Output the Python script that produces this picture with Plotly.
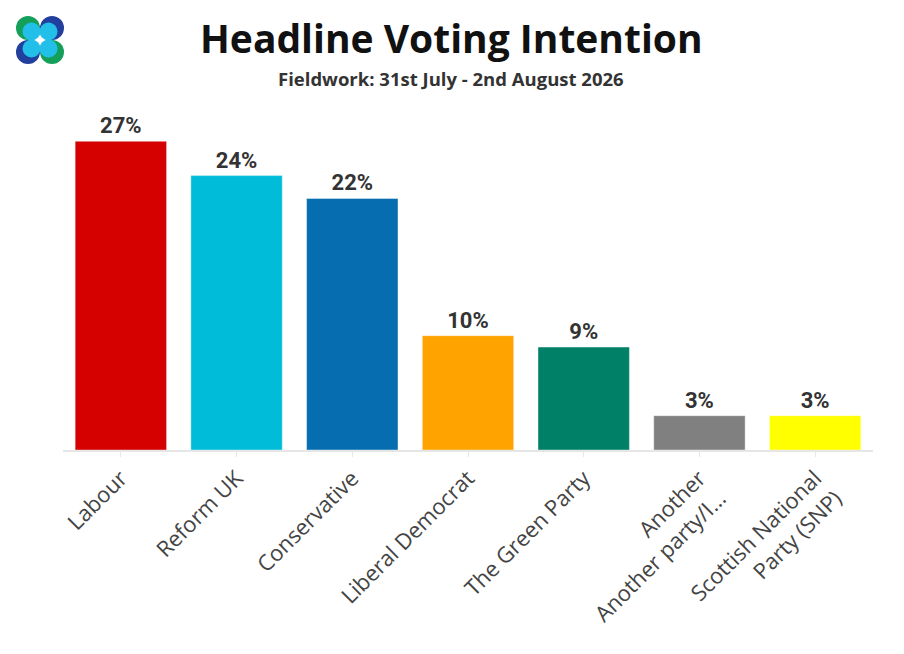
import plotly.graph_objects as go

parties = ['Labour', 'Reform UK', 'Conservative', 'Liberal Democrat', 'The Green Party',
           'Another<br>Another party/I...', 'Scottish National<br>Party (SNP)']
share = [27, 24, 22, 10, 9, 3, 3]
bar_colors = ['#d50000', '#00bcd8', '#066eb0', '#ffa300', '#008066', '#808080', '#ffff00']

FONT = 'Open Sans'

# page pixels -> paper coords (plot area spans x 63..873, y 107..450 on the page)
def px(x):
    return (x - 63) / 810.0

def py(y):
    return (450 - y) / 343.0

fig = go.Figure()
fig.add_trace(go.Bar(
    x=parties, y=share,
    marker=dict(color=bar_colors, line=dict(color='rgba(255,255,255,0.4)', width=1)),
    text=['{}%'.format(v) for v in share],
    textposition='outside',
    textfont=dict(family='Roboto', size=22, color='#333333', weight='bold'),
    cliponaxis=False,
    hoverinfo='x+y',
))

# logo: four coloured circles with cyan centres
logo = [((28, 28), '#14a05a'), ((52, 28), '#233f9d'),
        ((28, 52), '#233f9d'), ((52, 52), '#14a05a')]
for (cx, cy), col in logo:
    fig.add_shape(type='circle', xref='paper', yref='paper', layer='above',
                  x0=px(cx - 12), x1=px(cx + 12), y0=py(cy + 12), y1=py(cy - 12),
                  fillcolor=col, line_width=0)
for (cx, cy), col in logo:
    dx = 3.5 if cx < 40 else -3.5
    dy = 3.5 if cy < 40 else -3.5
    fig.add_shape(type='circle', xref='paper', yref='paper', layer='above',
                  x0=px(cx + dx - 9), x1=px(cx + dx + 9), y0=py(cy + dy + 9), y1=py(cy + dy - 9),
                  fillcolor='#22c0e8', line_width=0)

fig.add_annotation(text='<b>Headline Voting Intention</b>', xref='paper', yref='paper',
                   x=px(451), y=py(37), xanchor='center', yanchor='middle', showarrow=False,
                   font=dict(family=FONT, size=39, color='#111111'))
fig.add_annotation(text='<b>Fieldwork: 31st July - 2nd August 2026</b>', xref='paper', yref='paper',
                   x=px(451), y=py(79), xanchor='center', yanchor='middle', showarrow=False,
                   font=dict(family=FONT, size=18.5, color='#333333'))

fig.update_layout(
    width=896, height=646,
    paper_bgcolor='white', plot_bgcolor='white',
    margin=dict(l=55, r=31, t=99, b=204),
    showlegend=False,
    bargap=0.21,
    xaxis=dict(
        tickangle=-45,
        tickfont=dict(family=FONT, size=22, color='#444444'),
        showline=True, linecolor='#e6e6e6', linewidth=1.5,
        ticks='outside', ticklen=5, tickcolor='#e6e6e6',
        showgrid=False, automargin=False,
    ),
    yaxis=dict(range=[0, 30], visible=False, showgrid=False, zeroline=False),
)

fig.write_html('out.html')
